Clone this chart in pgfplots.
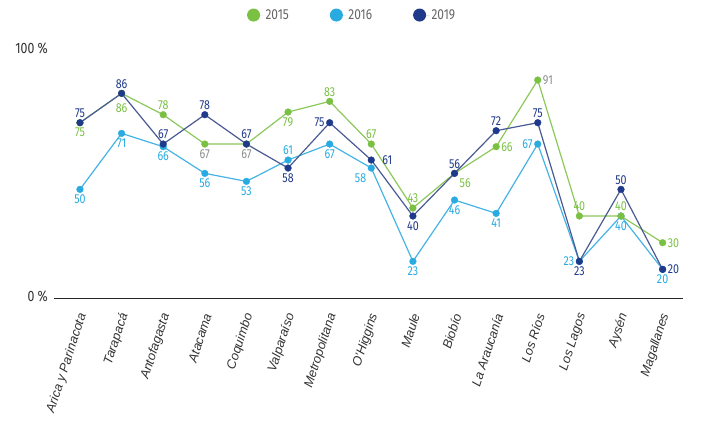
\documentclass[border=0pt]{standalone}
\usepackage{pgfplots}
\pgfplotsset{compat=1.18}
\usepackage{pgfplotstable}
\usepackage{fontspec}
\setmainfont{Liberation Sans}
\newfontfamily\condfont[FakeStretch=0.82]{Fira Sans}

\definecolor{c15}{HTML}{7AC143}
\definecolor{c15l}{HTML}{8CC85A}
\definecolor{c16}{HTML}{29ABE2}
\definecolor{c16l}{HTML}{45B4E5}
\definecolor{c19}{HTML}{1F3A8A}
\definecolor{c19l}{HTML}{4A5A93}
\definecolor{cgray}{HTML}{8E8E8E}
\definecolor{leggray}{HTML}{666666}
\definecolor{labgray}{HTML}{333333}

\pgfplotstableread[col sep=comma]{
x,y,anc
0,75,north
1,86,north
2,78,south
3,67,north
4,67,north
5,79,north
6,83,south
7,67,south
8,43,south
9,56,north west
10,66,west
11,91,west
12,40,south
13,40,south
14,30,west
}\tabA

\pgfplotstableread[col sep=comma]{
x,y,anc
0,50,north
1,71,north
2,66,north
3,56,north
4,53,north
5,61,south
6,67,north
7,58,north east
8,23,north
9,46,north
10,41,north
11,67,east
12,23,east
13,40,north
14,20,north
}\tabB

\pgfplotstableread[col sep=comma]{
x,y,anc
0,75,south
1,86,south
2,67,south
3,78,south
4,67,south
5,58,north
6,75,east
7,61,west
8,40,north
9,56,south
10,72,south
11,75,south
12,23,north
13,50,south
14,20,west
}\tabC

\pgfplotsset{
  lab/.style={
    point meta=explicit symbolic,
    visualization depends on={rawy\as\ry},
    visualization depends on={rawx\as\rx},
    nodes near coords={\pgfmathtruncatemacro\vv{\ry}\vv},
    every node near coord/.append style={anchor=\pgfplotspointmeta, inner sep=5pt,
      font=\condfont\fontsize{13}{14}\selectfont},
  }
}

\begin{document}
\begin{tikzpicture}
\useasboundingbox (-54pt,-125.3pt) rectangle (648pt,298.7pt);
\begin{axis}[
  name=ax, at={(0pt,0pt)}, anchor=south west,
  scale only axis, width=629pt, height=256pt,
  xmin=-0.624, xmax=14.49, ymin=9, ymax=105,
  axis x line*=bottom, axis y line*=left,
  x axis line style={-, line width=1.4pt, color=black!85},
  y axis line style={draw=none},
  xtick={0,...,14},
  xticklabels={Arica y Parinacota,Tarapacá,Antofagasta,Atacama,Coquimbo,Valparaíso,Metropolitana,O'Higgins,Maule,Biobío,La Araucanía,Los Ríos,Los Lagos,Aysén,Magallanes},
  ytick={10,103}, yticklabels={0 \%,100 \%},
  major tick length=0pt, tick style={draw=none},
  xticklabel style={xshift=3pt, yshift=-15pt, rotate=72, anchor=east, inner sep=0pt, text=labgray,
    font=\fontsize{12.8}{14}\selectfont\itshape},
  yticklabel style={anchor=east, inner sep=0pt, xshift=-6pt, text=labgray,
    font=\condfont\fontsize{15}{16}\selectfont},
  clip=false,
  legend columns=-1,
  legend image code/.code={\fill[#1, draw=none] (0pt,0pt) circle (6.5pt); \path[draw=none] (-6.5pt,0pt) -- (10pt,0pt);},
  legend style={at={(0.474,1.108)}, anchor=center, draw=none, fill=none,
    font=\condfont\fontsize{14.5}{16}\selectfont, text=leggray,
    nodes={inner sep=2pt},
    /tikz/every even column/.append style={column sep=39pt}},
  every axis plot/.append style={line width=1.2pt},
  mark size=3.4pt,
]
\addlegendimage{fill=c15, draw=none}
\addlegendentry{2015}
\addlegendimage{fill=c16, draw=none}
\addlegendentry{2016}
\addlegendimage{fill=c19, draw=none}
\addlegendentry{2019}

\addplot[forget plot, lab, color=c16l, mark=*, mark options={draw=c16, fill=c16, line width=0.3pt},
  every node near coord/.append style={text=c16}]
  table[x=x, y=y, meta=anc] {\tabB};
\addplot[forget plot, lab, color=c15l, mark=*, mark options={draw=c15, fill=c15, line width=0.3pt},
  every node near coord/.append style={text=c15},
  nodes near coords={\pgfmathtruncatemacro\vv{\ry}\pgfmathtruncatemacro\uu{\rx}\ifnum\vv=91 \color{cgray}\fi\ifnum\vv=67 \ifnum\uu<5 \color{cgray}\fi\fi\ifnum\vv=86 \rule{0pt}{14pt}\fi\vv}]
  table[x=x, y=y, meta=anc] {\tabA};
\addplot[forget plot, lab, color=c19l, mark=*, mark options={draw=c19, fill=c19, line width=0.3pt},
  every node near coord/.append style={text=c19},
  nodes near coords={\pgfmathtruncatemacro\vv{\ry}\pgfmathtruncatemacro\uu{\rx}\ifnum\uu=7 \hspace*{6pt}\fi\vv}]
  table[x=x, y=y, meta=anc] {\tabC};
\end{axis}
\end{tikzpicture}
\end{document}
